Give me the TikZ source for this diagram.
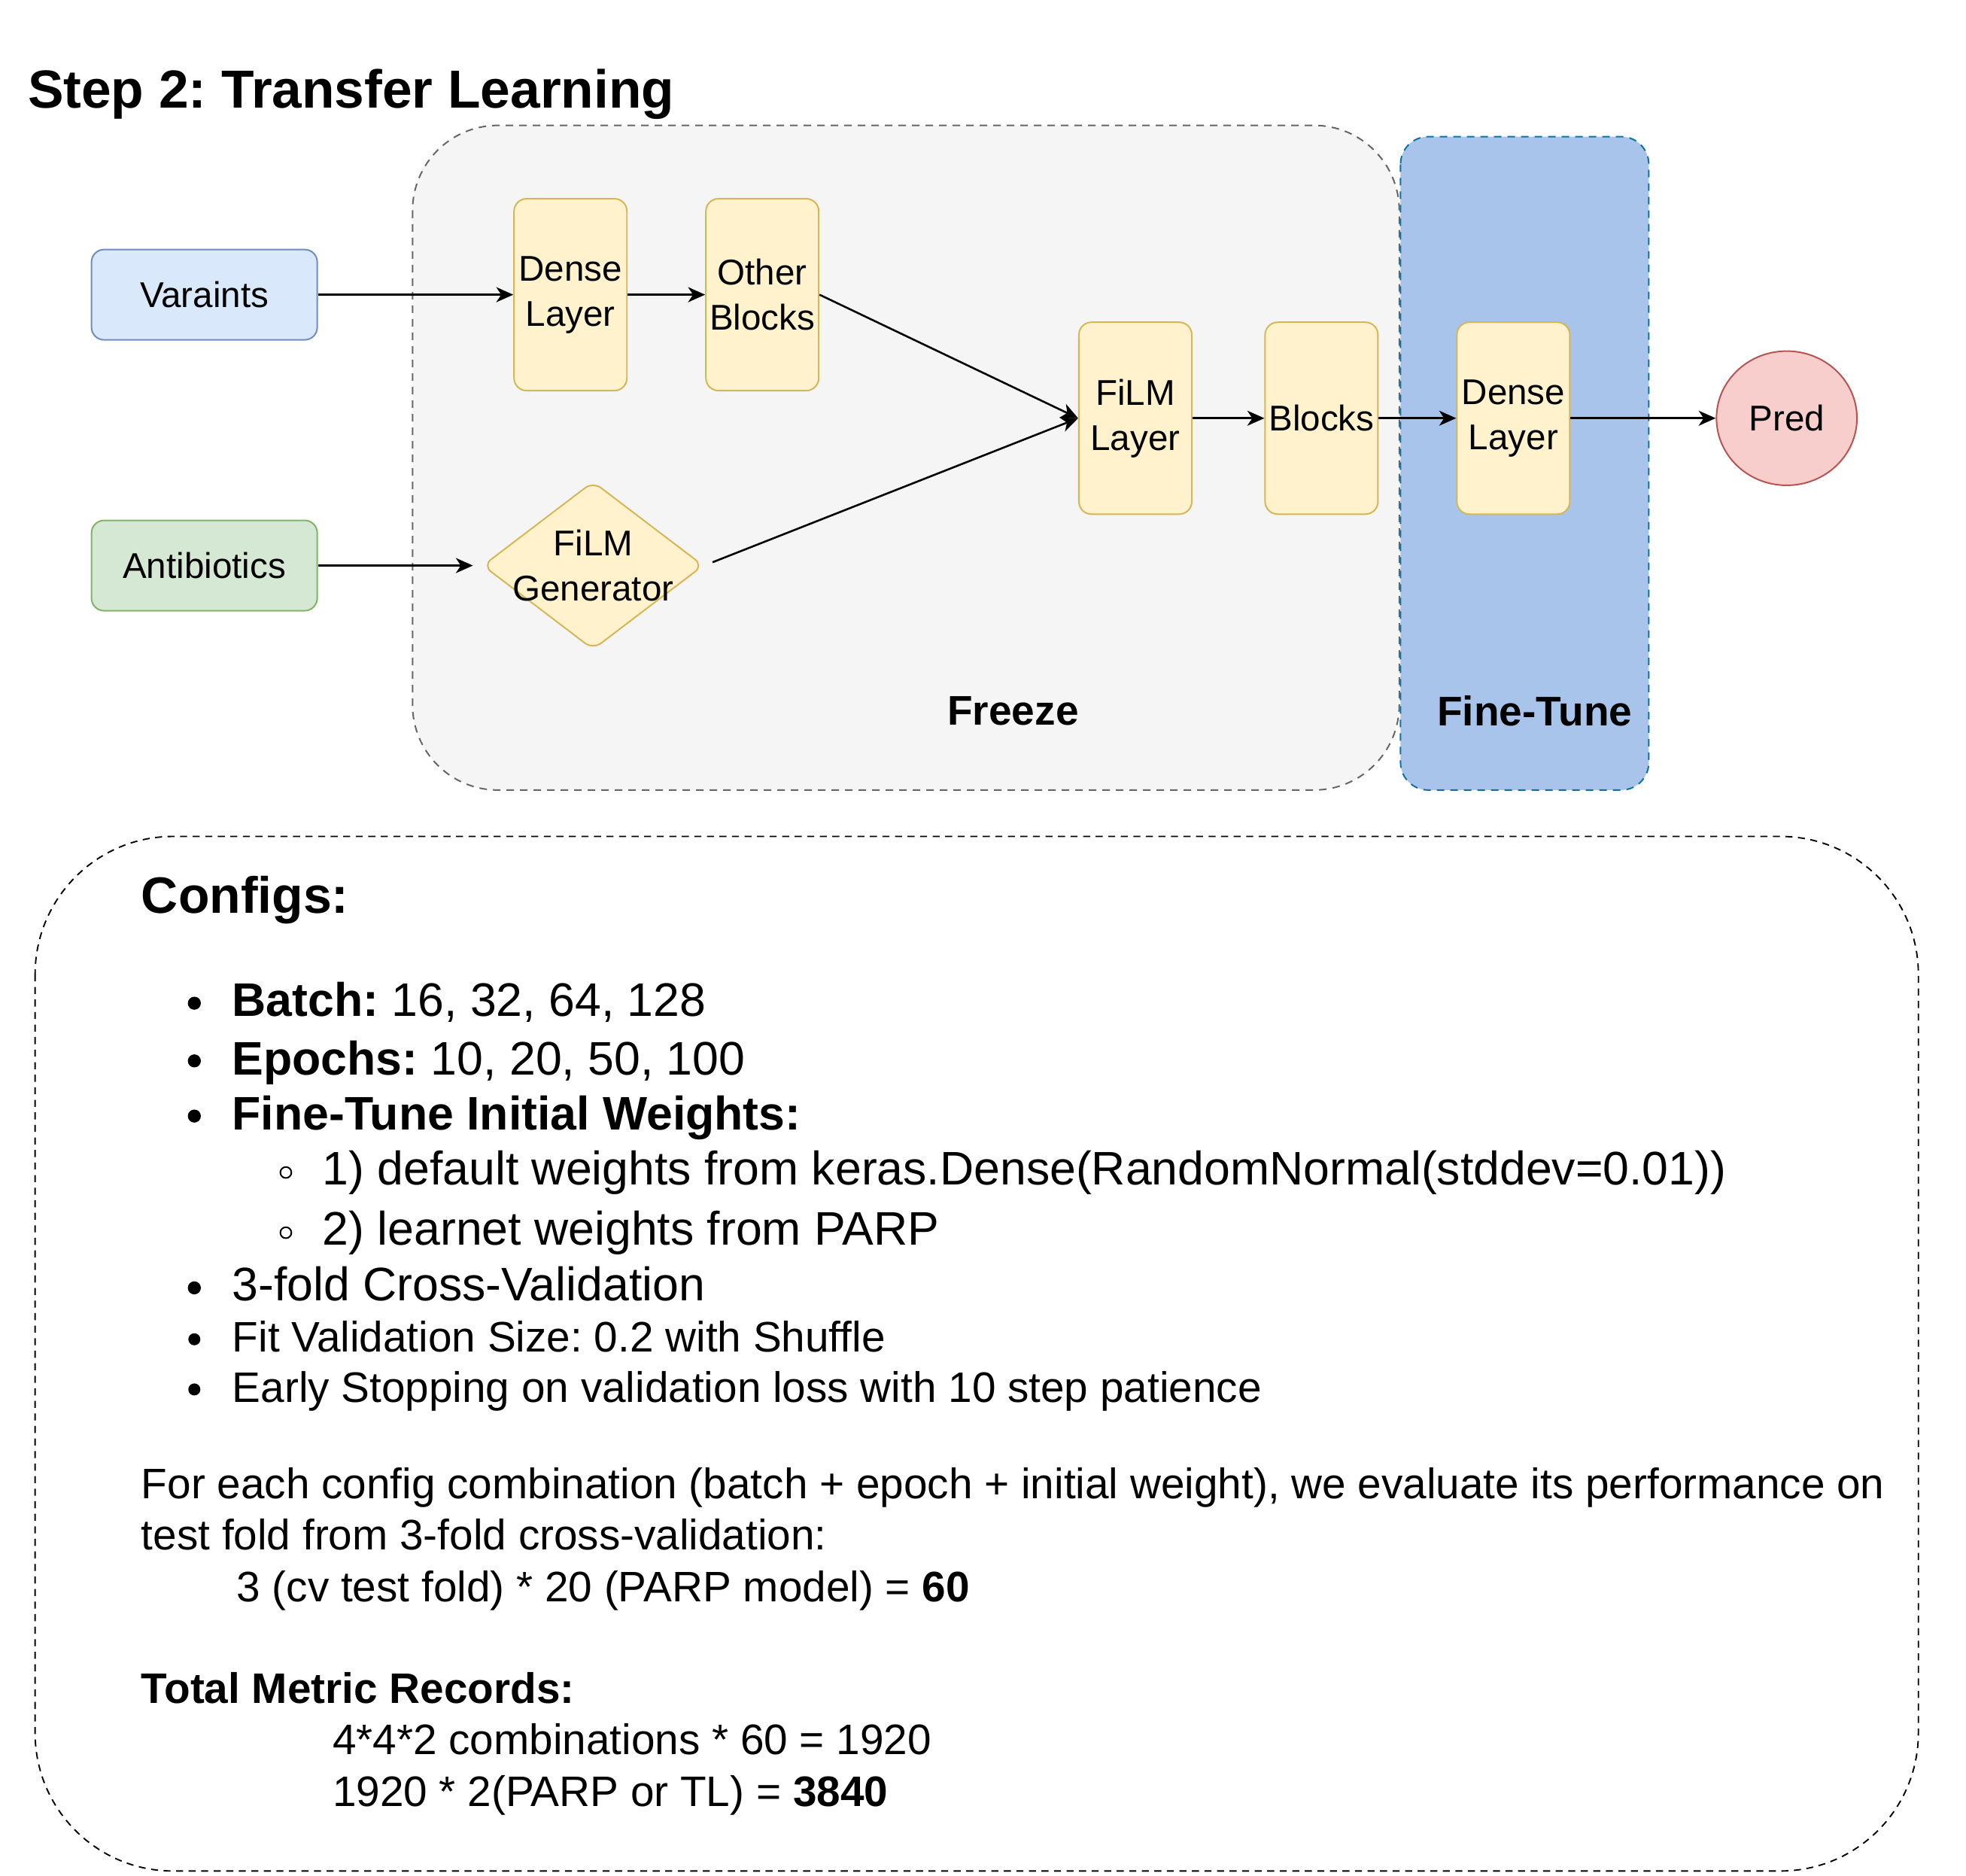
\documentclass[tikz,border=0pt]{standalone}
\usepackage{fontspec}
\setmainfont{Liberation Sans}
\frenchspacing
\usetikzlibrary{shapes.geometric,arrows.meta}

\definecolor{varfill}{HTML}{DAE8FC}
\definecolor{varline}{HTML}{6C8EBF}
\definecolor{abfill}{HTML}{D5E8D4}
\definecolor{abline}{HTML}{82B366}
\definecolor{layfill}{HTML}{FFF2CC}
\definecolor{layline}{HTML}{D6B656}
\definecolor{predfill}{HTML}{F8CECC}
\definecolor{predline}{HTML}{B85450}
\definecolor{frzfill}{HTML}{F5F5F5}
\definecolor{frzline}{HTML}{666666}
\definecolor{ftfill}{HTML}{A9C4EB}
\definecolor{ftline}{HTML}{10739E}

\tikzset{
  inbox/.style={draw=#1line,fill=#1fill,rounded corners=0.25cm,line width=0.85pt,
    minimum width=4.5cm,minimum height=1.8cm,inner sep=0pt,
    font=\fontsize{20.3}{25.6}\selectfont},
  layer/.style={draw=layline,fill=layfill,rounded corners=0.25cm,line width=0.85pt,
    minimum width=2.25cm,minimum height=3.825cm,inner sep=0pt,align=center,
    font=\fontsize{20.3}{25.6}\selectfont},
  arr/.style={draw=black,line width=1.1pt,-{Stealth[length=0.34cm,width=0.3cm,inset=0.1cm]}},
  zone/.style={font=\fontsize{23.5}{28}\selectfont\bfseries},
  big/.style={anchor=base west,inner sep=0pt,font=\fontsize{26.7}{32}\selectfont},
  small/.style={anchor=base west,inner sep=0pt,font=\fontsize{24.2}{29}\selectfont},
}

\begin{document}
\begin{tikzpicture}[x=0.025cm,y=-0.025cm]

\useasboundingbox (0,0) rectangle (1568,1496);

\node[anchor=base west,inner sep=0pt,font=\fontsize{30.4}{36}\selectfont\bfseries] (title) at (22,86) {Step 2: Transfer Learning};

%zones
\path[draw=frzline,fill=frzfill,line width=0.85pt,dash pattern=on 0.15cm off 0.12cm,rounded corners=1.7cm] (329,100) rectangle (1116,630);
\path[draw=ftline,fill=ftfill,line width=0.85pt,dash pattern=on 0.15cm off 0.12cm,rounded corners=0.55cm] (1117,109) rectangle (1315,630);
\node[zone] (freeze) at (808,567) {Freeze};
\node[zone] (finetune) at (1224,567) {Fine-Tune};

%inputs
\node[inbox=var] (varaints) at (163,235) {Varaints};
\node[inbox=ab] (antibiotics) at (163,451) {Antibiotics};

%layers
\node[layer] (dense) at (455,235) {Dense\\Layer};
\node[layer] (other) at (608,235) {Other\\Blocks};
\node[draw=layline,fill=layfill,shape=diamond,rounded corners=0.2cm,line width=0.85pt,
  minimum width=4.4cm,minimum height=3.35cm,inner sep=0pt] (filmgen) at (473,451) {};
\node[align=center,inner sep=0pt,font=\fontsize{20.3}{25.6}\selectfont] (filmgentext) at (filmgen) {FiLM\\Generator};
\node[layer] (film) at (905.5,333.5) {FiLM\\Layer};
\node[layer] (blocks) at (1054,333.5) {Blocks};
\node[layer] (densetune) at (1207,333.5) {Dense\\Layer};
\node[draw=predline,fill=predfill,shape=ellipse,line width=0.85pt,minimum width=2.8cm,
  minimum height=2.675cm,inner sep=0pt,font=\fontsize{20.3}{25.6}\selectfont] (pred) at (1425,333.5) {Pred};

%connectors
\path[arr] (varaints) -- (dense);
\path[arr] (dense) -- (other);
\path[arr] (other.east) -- (film.west);
\path[arr,shorten >=0.18cm] (antibiotics) -- (filmgen);
\path[arr,shorten <=0.18cm] (filmgen.east) -- (film.west);
\path[arr] (film) -- (blocks);
\path[arr] (blocks) -- (densetune);
\path[arr] (densetune) -- (pred);

%configs
\path[draw=black,line width=0.8pt,dash pattern=on 0.14cm off 0.11cm,rounded corners=2.75cm] (28,667) rectangle (1530,1492);
\node[anchor=base west,inner sep=0pt,font=\fontsize{29}{34}\selectfont\bfseries] (configs) at (112.5,728) {Configs:};

\fill (155,800) circle (0.13cm);
\node[big] (batch) at (185,810.7) {\textbf{Batch:} 16, 32, 64, 128};
\fill (155,846) circle (0.13cm);
\node[big] (epochs) at (185,857) {\textbf{Epochs:} 10, 20, 50, 100};
\fill (155,890) circle (0.13cm);
\node[big] (weights) at (185,901) {\textbf{Fine-Tune Initial Weights:}};
\draw[line width=0.85pt] (228,935) circle (0.11cm);
\node[big] (wone) at (257,945) {1) default weights from keras.Dense(RandomNormal(stddev=0.01))};
\draw[line width=0.85pt] (228,983) circle (0.11cm);
\node[big] (wtwo) at (257,993) {2) learnet weights from PARP};
\fill (155,1027) circle (0.13cm);
\node[big] (cv) at (185,1037.5) {3-fold Cross-Validation};
\fill (155,1068) circle (0.12cm);
\node[small] (fit) at (185,1078) {Fit Validation Size: 0.2 with Shuffle};
\fill (155,1108) circle (0.12cm);
\node[small] (early) at (185,1118) {Early Stopping on validation loss with 10 step patience};

\node[small] (foreach) at (112.5,1195) {For each config combination (batch + epoch + initial weight), we evaluate its performance on};
\node[small] (testfold) at (112.5,1236) {test fold from 3-fold cross-validation:};
\node[small] (sixty) at (188.5,1277) {3 (cv test fold) * 20 (PARP model) = \textbf{60}};

\node[small] (total) at (112.5,1358) {\textbf{Total Metric Records:}};
\node[small] (combos) at (265,1399) {4*4*2 combinations * 60 = 1920};
\node[small] (records) at (265,1440.5) {1920 * 2(PARP or TL) = \textbf{3840}};

\end{tikzpicture}
\end{document}
